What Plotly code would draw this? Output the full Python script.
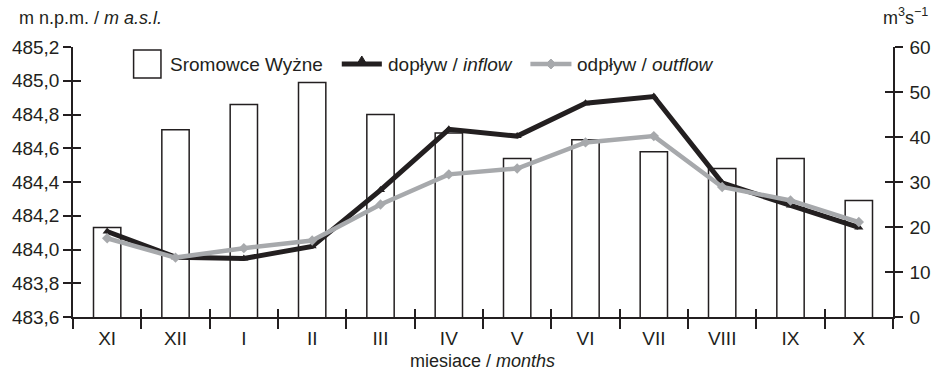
import plotly.graph_objects as go

months = ["XI", "XII", "I", "II", "III", "IV", "V", "VI", "VII", "VIII", "IX", "X"]
water_level = [484.13, 484.71, 484.86, 484.99, 484.80, 484.69, 484.54, 484.65, 484.58, 484.48, 484.54, 484.29]
inflow = [19.0, 13.3, 13.0, 15.7, 28.2, 41.7, 40.2, 47.5, 49.0, 29.8, 24.8, 19.9]
outflow = [17.5, 13.2, 15.3, 17.0, 25.0, 31.7, 33.0, 38.8, 40.2, 28.9, 25.9, 21.1]

INK = "#231f20"
GREY = "#a7a9ac"
FONT = "Liberation Sans, Arial, sans-serif"

# plot area in pixels
L, R, T, B = 64, 40, 47, 55
W, H = 943, 372
PW, PH = W - L - R, H - T - B


def px(x):
    return (x - L) / PW


def py(y):
    return (H - B - y) / PH


fig = go.Figure()
fig.add_trace(go.Bar(
    x=months, y=water_level, width=0.4,
    marker=dict(color="white", line=dict(color=INK, width=1.5)),
    name="Sromowce Wyżne", showlegend=False, yaxis="y",
))
fig.add_trace(go.Scatter(
    x=months, y=inflow, mode="lines+markers", yaxis="y2",
    line=dict(color=INK, width=5),
    marker=dict(symbol="triangle-up", size=8, color=INK),
    name="dopływ / inflow", showlegend=False,
))
fig.add_trace(go.Scatter(
    x=months, y=outflow, mode="lines+markers", yaxis="y2",
    line=dict(color=GREY, width=4.5),
    marker=dict(symbol="diamond", size=8, color=GREY),
    name="odpływ / outflow", showlegend=False,
))
# helper traces so the tick-overlay axes are drawn
fig.add_trace(go.Scatter(x=[None], y=[None], xaxis="x2", yaxis="y3", showlegend=False, hoverinfo="skip"))
fig.add_trace(go.Scatter(x=[None], y=[None], xaxis="x2", yaxis="y4", showlegend=False, hoverinfo="skip"))

axis_common = dict(showgrid=False, zeroline=False, tickcolor=INK, tickwidth=1.5)
line_common = dict(linecolor=INK, linewidth=1.5, showline=True)

fig.update_layout(
    width=W, height=H,
    margin=dict(l=L, r=R, t=T, b=B),
    paper_bgcolor="white", plot_bgcolor="white",
    font=dict(family=FONT, size=19, color=INK),
    separators=", ",
    xaxis=dict(type="category", categoryorder="array", categoryarray=months,
               range=[-0.5, 11.5], tickson="boundaries", ticks="outside", ticklen=10,
               ticklabelstandoff=3, tickfont=dict(size=19), **axis_common, **line_common),
    xaxis2=dict(overlaying="x", anchor="y", side="bottom", range=[-0.5, 11.5],
                tickvals=[i - 0.5 for i in range(13)], ticks="inside", ticklen=8,
                showticklabels=False, showline=False, **axis_common),
    yaxis=dict(range=[483.6, 485.2], tick0=483.6, dtick=0.2, tickformat=".1f",
               ticks="outside", ticklen=8, tickfont=dict(size=19), **axis_common, **line_common),
    yaxis3=dict(overlaying="y", anchor="x", side="left", range=[483.6, 485.2], tick0=483.6, dtick=0.2,
                ticks="inside", ticklen=8, showticklabels=False, showline=False, **axis_common),
    yaxis2=dict(overlaying="y", anchor="x", side="right", range=[0, 60], dtick=10,
                ticks="outside", ticklen=8, ticklabelstandoff=3, tickfont=dict(size=19),
                **axis_common, **line_common),
    yaxis4=dict(overlaying="y", anchor="x", side="right", range=[0, 60], dtick=10,
                ticks="inside", ticklen=8, showticklabels=False, showline=False, **axis_common),
)

# custom legend
ly = py(64)
shapes = [
    dict(type="rect", xref="paper", yref="paper", x0=px(126), x1=px(154), y0=py(78), y1=py(50),
         line=dict(color=INK, width=1.5), fillcolor="white"),
    dict(type="line", xref="paper", yref="paper", x0=px(339), x1=px(380), y0=ly, y1=ly,
         line=dict(color=INK, width=5)),
    dict(type="path", xref="paper", yref="paper",
         path=f"M {px(354)} {py(65)} L {px(365)} {py(65)} L {px(359.5)} {py(56)} Z",
         line=dict(color=INK, width=1), fillcolor=INK),
    dict(type="line", xref="paper", yref="paper", x0=px(532), x1=px(574), y0=ly, y1=ly,
         line=dict(color=GREY, width=4.5)),
    dict(type="path", xref="paper", yref="paper",
         path=f"M {px(548)} {ly} L {px(553)} {py(59)} L {px(558)} {ly} L {px(553)} {py(69)} Z",
         line=dict(color=GREY, width=1), fillcolor=GREY),
]
fig.update_layout(shapes=shapes)

annos = [
    dict(text="Sromowce Wyżne", x=px(161), y=ly),
    dict(text="dopływ / <i>inflow</i>", x=px(384), y=ly),
    dict(text="odpływ / <i>outflow</i>", x=px(578), y=ly),
    dict(text="m n.p.m. / <i>m a.s.l.</i>", x=px(7), y=py(18), font=dict(size=18)),
]
for a in annos:
    fig.add_annotation(xref="paper", yref="paper", xanchor="left", yanchor="middle",
                       showarrow=False, **a)
fig.add_annotation(text="m<sup>3</sup>s<sup>−1</sup>", xref="paper", yref="paper",
                   x=px(941), y=py(17), xanchor="right", yanchor="middle", showarrow=False,
                   font=dict(size=18))
fig.add_annotation(text="miesiace / <i>months</i>", xref="paper", yref="paper",
                   x=px(483), y=py(361), xanchor="center", yanchor="middle", showarrow=False,
                   font=dict(size=18))

fig.write_html("out.html")
